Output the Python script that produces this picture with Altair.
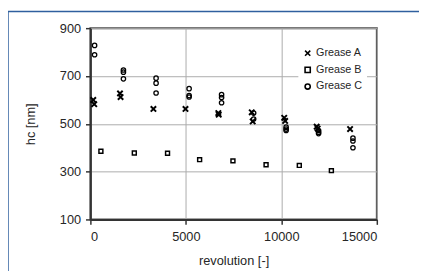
import altair as alt
import pandas as pd

# Grease A (crosses)
a_x = [150, 200, 1550, 1580, 3300, 4980, 6700, 6720, 8450, 8500, 10150, 10200, 11850, 11900, 13600]
a_y = [600, 582, 627, 612, 562, 562, 545, 538, 548, 510, 525, 512, 488, 480, 478]
# Grease B (squares)
b_x = [550, 2300, 4040, 5720, 7465, 9200, 10940, 12620]
b_y = [385, 378, 377, 350, 345, 329, 326, 304]
# Grease C (circles)
c_x = [220, 220, 1730, 1730, 1730, 3440, 3440, 3440, 5170, 5170, 5170, 6870, 6870, 6870,
       8550, 8550, 10250, 10250, 10250, 11950, 11950, 11950, 13750, 13750, 13750]
c_y = [828, 789, 725, 716, 688, 691, 670, 629, 647, 618, 612, 622, 610, 588,
       545, 520, 486, 478, 472, 472, 465, 459, 440, 428, 400]

series = ["Grease A", "Grease B", "Grease C"]
sizes = [30, 16, 20]
widths = [2.0, 1.5, 1.3]

rows = []
for name, xs, ys in [(series[0], a_x, a_y), (series[1], b_x, b_y), (series[2], c_x, c_y)]:
    for x, y in zip(xs, ys):
        rows.append({"rev": x, "hc": y, "series": name})
df = pd.DataFrame(rows)

FONT = "Liberation Sans"
TXT = "#262626"

cross_path = "M-1,-1L1,1M-1,1L1,-1"

frame = alt.Chart(alt.Data(values=[{}])).mark_rect(
    fill="transparent", stroke="#2f5f9e", strokeWidth=1.5
).encode(
    x=alt.value(-84), x2=alt.value(400), y=alt.value(-17), y2=alt.value(250)
)

xenc = alt.X("rev:Q", title="revolution [-]",
             scale=alt.Scale(domain=[0, 15000], nice=False),
             axis=alt.Axis(values=[0, 5000, 10000, 15000], format="d"))
yenc = alt.Y("hc:Q", title="hc [nm]",
             scale=alt.Scale(domain=[100, 900], nice=False),
             axis=alt.Axis(values=[100, 300, 500, 700, 900], format="d"))
shape_scale = alt.Scale(domain=series, range=[cross_path, "square", "circle"])
legend = alt.Legend(orient="none", legendX=212, legendY=16,
                    fillColor="white", padding=4,
                    symbolSize=28, symbolStrokeWidth=1.6,
                    symbolStrokeColor="black", symbolFillColor="transparent",
                    labelFont=FONT, labelFontSize=11, labelColor=TXT,
                    labelOffset=3, rowPadding=4)

layers = [frame]
for name, sz, sw in zip(series, sizes, widths):
    layers.append(
        alt.Chart(df).transform_filter(alt.datum.series == name).mark_point(
            filled=False, color="black", opacity=1, size=sz, strokeWidth=sw
        ).encode(
            x=xenc, y=yenc,
            shape=alt.Shape("series:N", title=None, scale=shape_scale, legend=legend),
        )
    )

chart = alt.layer(*layers).properties(
    width=292, height=195,
    background="white",
    autosize=alt.AutoSizeParams(type="none"),
    padding={"left": 84, "top": 18, "right": 43, "bottom": 50},
).configure_view(
    stroke="#4d4d4d", strokeWidth=2
).configure_axis(
    grid=True, gridColor="#ababab", gridWidth=1,
    domainColor="#333333", domainWidth=2,
    tickColor="#333333", tickSize=5, tickWidth=1.5,
    labelFont=FONT, labelFontSize=13, labelColor=TXT,
    titleFont=FONT, titleFontSize=13, titleColor=TXT, titleFontWeight="normal",
).configure_axisY(
    titlePadding=22, labelPadding=5
).configure_axisX(
    titlePadding=12, labelPadding=6
)

chart.save("out.html", embed_options={"renderer": "svg", "actions": False})
